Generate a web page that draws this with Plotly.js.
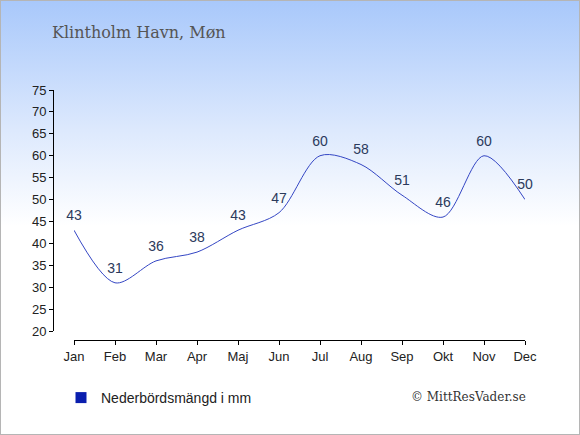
<!DOCTYPE html>
<html>
<head>
<meta charset="utf-8">
<script src="https://cdn.plot.ly/plotly-3.0.1.min.js"></script>
<style>
  html, body { margin: 0; padding: 0; }
  #chart {
    width: 580px; height: 435px;
    background: linear-gradient(to bottom, #a8c8fb 0%, #dde9fd 30%, #ffffff 52%, #ffffff 100%);
    box-shadow: inset 0 0 0 1px #b5b5b5;
  }
</style>
</head>
<body>
<div id="chart"></div>
<script>
const months = ["Jan","Feb","Mar","Apr","Maj","Jun","Jul","Aug","Sep","Okt","Nov","Dec"];
const precipitation = [43, 31, 36, 38, 43, 47, 60, 58, 51, 46, 60, 50];
const yTicks = [20, 25, 30, 35, 40, 45, 50, 55, 60, 65, 70, 75];
const chartTitle = "Klintholm Havn, Møn";
const seriesName = "Nederbördsmängd i mm";
const credit = "© MittResVader.se";

const W = 580, H = 435;
const xIdx = months.map((m, i) => i);

const traces = [
  {
    x: xIdx,
    y: precipitation,
    type: "scatter",
    mode: "lines+markers+text",
    line: { shape: "spline", smoothing: 0.9, color: "#3446c4", width: 1 },
    marker: { size: 9, opacity: 0 },
    text: precipitation.map(String),
    textposition: "top center",
    textfont: { family: "Liberation Sans, Arial, sans-serif", size: 14, color: "#2b3a5c" },
    showlegend: false,
    hoverinfo: "skip",
    cliponaxis: false
  },
  {
    x: [null],
    y: [null],
    type: "scatter",
    mode: "markers",
    name: seriesName,
    marker: { symbol: "square", size: 11, color: "#0a1eae" },
    showlegend: true,
    hoverinfo: "skip"
  }
];

const layout = {
  width: W, height: H,
  margin: { l: 0, r: 0, t: 0, b: 0 },
  paper_bgcolor: "rgba(0,0,0,0)",
  plot_bgcolor: "rgba(0,0,0,0)",
  title: {
    text: chartTitle,
    x: 52 / W, xanchor: "left", xref: "paper",
    y: (H - 32) / H, yanchor: "middle", yref: "paper",
    font: { family: "DejaVu Serif, serif", size: 16, color: "#555555" }
  },
  xaxis: {
    domain: [74 / W, 525 / W],
    range: [0, 11],
    anchor: "free",
    position: (H - 340) / H,
    tickmode: "array",
    tickvals: xIdx,
    ticktext: months,
    showgrid: false, zeroline: false,
    showline: true, linecolor: "#000", linewidth: 1,
    ticks: "outside", ticklen: 4, tickcolor: "#000",
    tickfont: { family: "Liberation Sans, Arial, sans-serif", size: 13, color: "#222" },
    fixedrange: true
  },
  yaxis: {
    domain: [(H - 331) / H, (H - 90) / H],
    range: [20, 75],
    anchor: "free",
    position: 53 / W,
    tickmode: "array",
    tickvals: yTicks,
    ticktext: yTicks.map(String),
    showgrid: false, zeroline: false,
    showline: true, linecolor: "#000", linewidth: 1,
    ticks: "outside", ticklen: 4, tickcolor: "#000",
    tickfont: { family: "Liberation Sans, Arial, sans-serif", size: 13, color: "#222" },
    fixedrange: true
  },
  showlegend: true,
  legend: {
    x: 61 / W, xanchor: "left",
    y: (H - 398) / H, yanchor: "middle",
    bgcolor: "rgba(0,0,0,0)",
    font: { family: "Liberation Sans, Arial, sans-serif", size: 14, color: "#222" },
    itemclick: false, itemdoubleclick: false
  },
  annotations: [
    {
      text: credit,
      xref: "paper", yref: "paper",
      x: 528 / W, xanchor: "right",
      y: (H - 397) / H, yanchor: "middle",
      showarrow: false,
      font: { family: "DejaVu Serif, serif", size: 12, color: "#333333" }
    }
  ]
};

Plotly.newPlot("chart", traces, layout, { displayModeBar: false, staticPlot: true });
</script>
</body>
</html>
